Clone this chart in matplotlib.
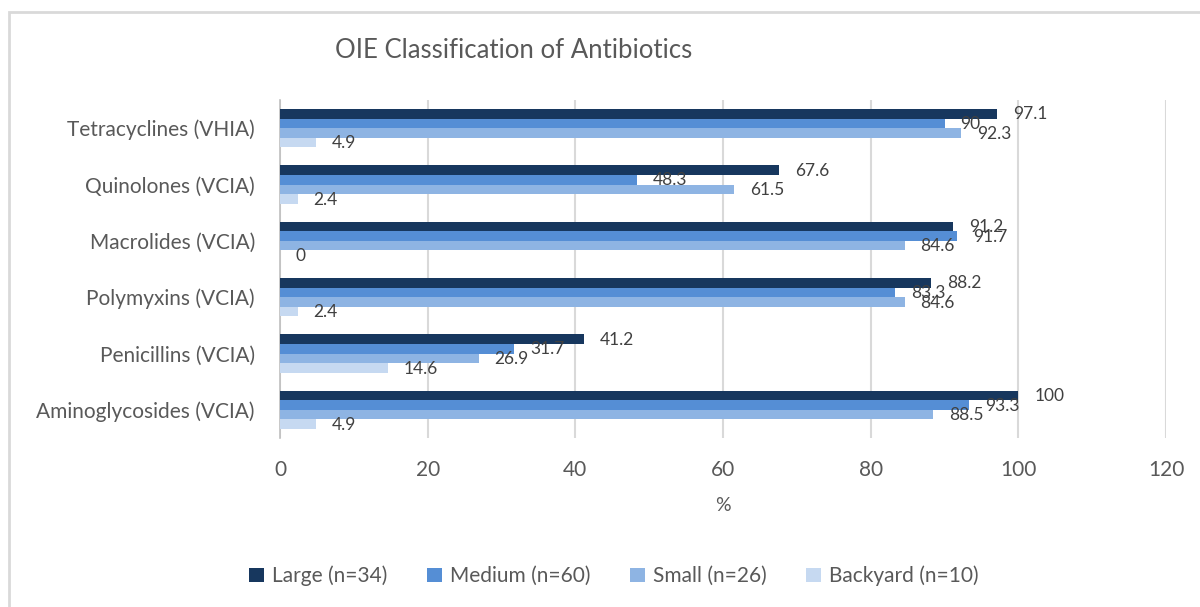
import matplotlib.pyplot as plt
import numpy as np
from matplotlib.patches import Rectangle

plt.rcParams["font.family"] = ["Lato", "DejaVu Sans"]

categories = [
    "Aminoglycosides (VCIA)",
    "Penicillins (VCIA)",
    "Polymyxins (VCIA)",
    "Macrolides (VCIA)",
    "Quinolones (VCIA)",
    "Tetracyclines (VHIA)",
]
series_names = ["Large (n=34)", "Medium (n=60)", "Small (n=26)", "Backyard (n=10)"]
large = [100, 41.2, 88.2, 91.2, 67.6, 97.1]
medium = [93.3, 31.7, 83.3, 91.7, 48.3, 90]
small = [88.5, 26.9, 84.6, 84.6, 61.5, 92.3]
backyard = [4.9, 14.6, 2.4, 0, 2.4, 4.9]
colors = ["#17375E", "#558ED5", "#8EB4E3", "#C6D9F1"]

fig = plt.figure(figsize=(12, 6.07), dpi=100)
ax = fig.add_axes([280 / 1200, 1 - 438 / 607, 886 / 1200, 338 / 607])

y = np.arange(len(categories))
h = 0.17
all_series = [large, medium, small, backyard]
for i, (vals, name, col) in enumerate(zip(all_series, series_names, colors)):
    pos = y + (1.5 - i) * h
    bars = ax.barh(pos, vals, height=h, color=col, label=name, zorder=3)
    for b, v in zip(bars, vals):
        ax.annotate(f"{v:g}", (b.get_width(), b.get_y() + h / 2),
                    xytext=(11.5, -0.5), textcoords="offset points",
                    ha="left", va="center", fontsize=12.5, color="#404040")

ax.set_xlim(0, 120)
ax.set_ylim(-0.5, len(categories) - 0.5)
ax.set_xticks(range(0, 121, 20))
ax.set_yticks(y)
ax.set_yticklabels(categories, fontsize=15.5)
ax.tick_params(axis="both", length=0, labelsize=15, labelcolor="#595959")
ax.tick_params(axis="x", pad=16)
ax.tick_params(axis="y", pad=18)
ax.grid(axis="x", color="#d9d9d9", linewidth=1.5, zorder=0)
for s in ["top", "right", "bottom"]:
    ax.spines[s].set_visible(False)
ax.spines["left"].set_color("#bfbfbf")
ax.spines["left"].set_linewidth(1.2)
ax.set_xlabel("%", fontsize=14, color="#595959", labelpad=12)

fig.text(335 / 1200, 1 - 51 / 607, "OIE Classification of Antibiotics",
         fontsize=18.5, color="#595959", ha="left", va="center")

handles, labels = ax.get_legend_handles_labels()
fig.legend(handles, labels, loc="center", bbox_to_anchor=(614 / 1200, 1 - 576 / 607),
           ncol=4, frameon=False, fontsize=15, handlelength=0.7, handleheight=0.7,
           columnspacing=1.9, handletextpad=0.4, labelcolor="#595959")

fig.patches.append(Rectangle((9 / 1200, -0.1), 1.2, 1.1 - 12 / 607,
                             transform=fig.transFigure, fill=False,
                             edgecolor="#d9d9d9", linewidth=2))

fig.savefig("out.png")
